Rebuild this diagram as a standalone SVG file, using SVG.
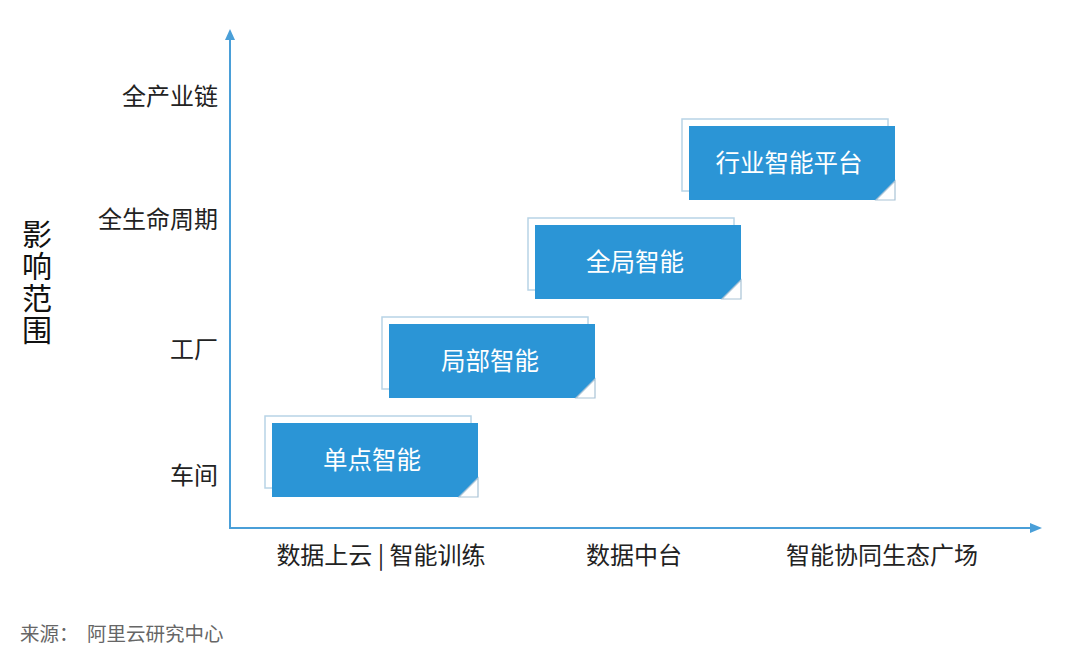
<svg xmlns="http://www.w3.org/2000/svg" width="1080" height="660" viewBox="0 0 1080 660">
<defs>
<style>
.t{font-family:"Noto Sans CJK SC","Liberation Sans",sans-serif;}
.ax{stroke:#4a9fd8;stroke-width:2;fill:none;}
.lbl{font-size:24px;fill:#222;text-anchor:end;}
.xl{font-size:24px;fill:#222;text-anchor:middle;}
.out{fill:#fff;stroke:#b8d4e6;stroke-width:1.5;}
.box{fill:#2b95d6;}
.fold{fill:#fff;stroke:#a9c3d6;stroke-width:1.2;}
.bt{font-size:24.5px;fill:#fff;text-anchor:middle;}
</style>
<g id="card">
<rect class="out" x="-7" y="-7" width="206" height="72"/>
<path class="box" d="M0,0 H206 V55 L187,74 H0 Z"/>
<path class="fold" d="M206,55 V74 H187 Z"/>
</g>
</defs>
<rect width="1080" height="660" fill="#fff"/>
<g id="connectors">
<line class="ax" x1="230" y1="529" x2="230" y2="38"/>
<path d="M230,29 L225,40 L235,40 Z" fill="#4a9fd8"/>
<line class="ax" x1="230" y1="528" x2="1032" y2="528"/>
<path d="M1042,528 L1030,523 L1030,533 Z" fill="#4a9fd8"/>
</g>
<g id="ylabels" class="t">
<text class="lbl" x="218" y="105">全产业链</text>
<text class="lbl" x="218" y="228">全生命周期</text>
<text class="lbl" x="218" y="358">工厂</text>
<text class="lbl" x="218" y="484">车间</text>
</g>
<g id="ytitle" class="t">
<text x="37" y="219" writing-mode="vertical-rl" font-size="30" letter-spacing="2" fill="#111">影响范围</text>
</g>
<g id="xlabels" class="t">
<text class="xl" x="381" y="564">数据上云 | 智能训练</text>
<text class="xl" x="634" y="564">数据中台</text>
<text class="xl" x="882" y="564">智能协同生态广场</text>
</g>
<g id="n1" class="t"><use href="#card" x="272" y="423"/><text class="bt" x="372" y="469">单点智能</text></g>
<g id="n2" class="t"><use href="#card" x="389" y="324"/><text class="bt" x="490" y="370">局部智能</text></g>
<g id="n3" class="t"><use href="#card" x="535" y="225"/><text class="bt" x="635" y="271">全局智能</text></g>
<g id="n4" class="t"><use href="#card" x="689" y="126"/><text class="bt" x="789" y="172">行业智能平台</text></g>
<g id="source" class="t" font-size="19.5" fill="#666"><text x="20" y="641">来源：</text><text x="87" y="641">阿里云研究中心</text></g>
</svg>
